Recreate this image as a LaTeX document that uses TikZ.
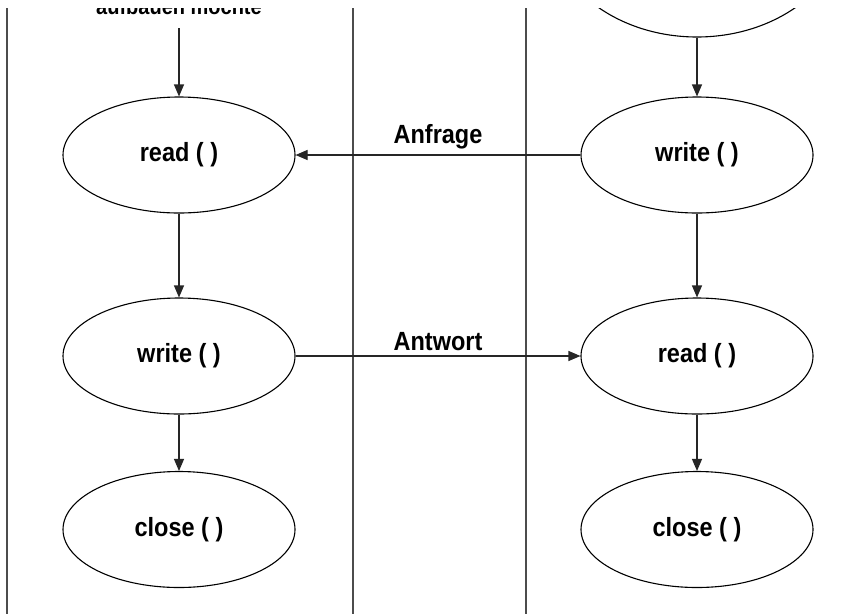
\documentclass[tikz,border=0pt]{standalone}
\usepackage{fontspec}
\setmainfont{Liberation Sans}
\usetikzlibrary{arrows.meta,shapes.geometric}
\newcommand{\tallt}[1]{\scalebox{1}[1.12]{#1}}
\begin{document}
\begin{tikzpicture}[x=1pt,y=-1pt,
  proc/.style={draw=black,line width=1.1pt,ellipse,minimum width=232pt,minimum height=116pt,inner sep=0pt,font=\fontsize{23.5}{26}\selectfont\bfseries},
  lane/.style={draw=black!70,line width=1.3pt},
  flow/.style={draw=black!85,line width=1.1pt,-{Triangle[length=12pt,width=10pt]}},
  lbl/.style={font=\fontsize{23.5}{26}\selectfont\bfseries,inner sep=0pt}]
\useasboundingbox (0,0) rectangle (861,614);
\fill[white] (0,0) rectangle (861,614);
\begin{scope}
\clip (0,8) rectangle (861,614);
% lanes
\coordinate (l1t) at (7,0); \coordinate (l1b) at (7,614);
\coordinate (l2t) at (353,0); \coordinate (l2b) at (353,614);
\coordinate (l3t) at (526,0); \coordinate (l3b) at (526,614);
\draw[lane] (l1t) -- (l1b);
\draw[lane] (l2t) -- (l2b);
\draw[lane] (l3t) -- (l3b);
% left column
\node[lbl,anchor=base,font=\fontsize{20}{24}\selectfont\bfseries] (top) at (179,14) {\tallt{aufbauen möchte}};
\coordinate (topa) at (179,28);
\node[proc] (lread) at (179,155) {\tallt{read ( )}};
\node[proc] (lwrite) at (179,356) {\tallt{write ( )}};
\node[proc] (lclose) at (179,529.5) {\tallt{close ( )}};
% right column
\node[proc,minimum width=300pt,minimum height=240pt] (rtop) at (697,-83) {};
\node[proc] (rwrite) at (697,155) {\tallt{write ( )}};
\node[proc] (rread) at (697,356) {\tallt{read ( )}};
\node[proc] (rclose) at (697,529.5) {\tallt{close ( )}};
% flows
\draw[flow] (topa) -- (lread);
\draw[flow] (lread) -- (lwrite);
\draw[flow] (lwrite) -- (lclose);
\draw[flow] (rtop) -- (rwrite);
\draw[flow] (rwrite) -- (rread);
\draw[flow] (rread) -- (rclose);
\draw[flow] (rwrite) -- node[lbl,above=5pt,pos=0.5] (anf) {\tallt{Anfrage}} (lread);
\draw[flow] (lwrite) -- node[lbl,above=5pt,pos=0.5] (ant) {\tallt{Antwort}} (rread);
\end{scope}
\end{tikzpicture}
\end{document}
